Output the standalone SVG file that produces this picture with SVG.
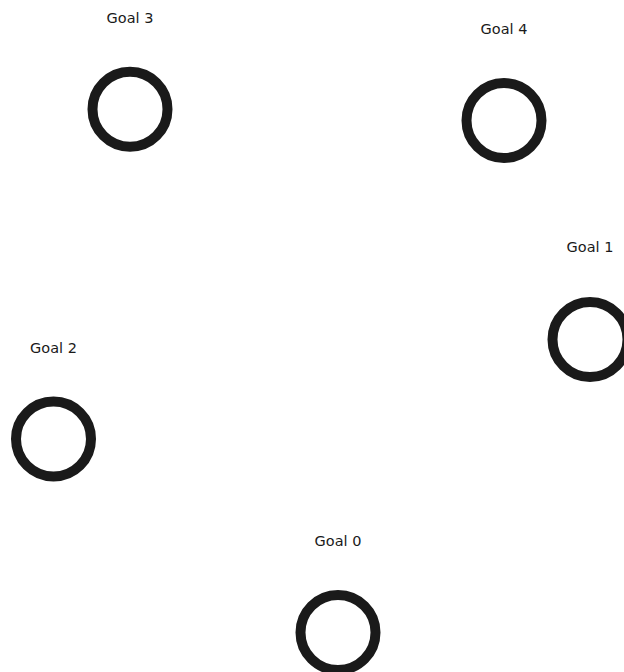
<svg xmlns="http://www.w3.org/2000/svg" width="624" height="672" viewBox="0 0 624 672">
<style>
.goal{fill:none;stroke:#1a1a1a;stroke-width:10}
.lbl{font-family:"DejaVu Sans",sans-serif;font-size:14.5px;fill:#1a1a1a;text-anchor:middle}
</style>
<rect width="624" height="672" fill="#ffffff"/>
<g id="connectors"></g>
<g id="goal0"><circle class="goal" cx="338" cy="632.5" r="37.5"/><text class="lbl" x="338" y="545.5">Goal 0</text></g>
<g id="goal1"><circle class="goal" cx="590" cy="339.5" r="37.5"/><text class="lbl" x="590" y="252">Goal 1</text></g>
<g id="goal2"><circle class="goal" cx="53.5" cy="439" r="37.5"/><text class="lbl" x="53.5" y="352.5">Goal 2</text></g>
<g id="goal3"><circle class="goal" cx="130" cy="109.2" r="37.5"/><text class="lbl" x="130" y="22.7">Goal 3</text></g>
<g id="goal4"><circle class="goal" cx="504" cy="120.5" r="37.5"/><text class="lbl" x="504" y="33.5">Goal 4</text></g>
</svg>
